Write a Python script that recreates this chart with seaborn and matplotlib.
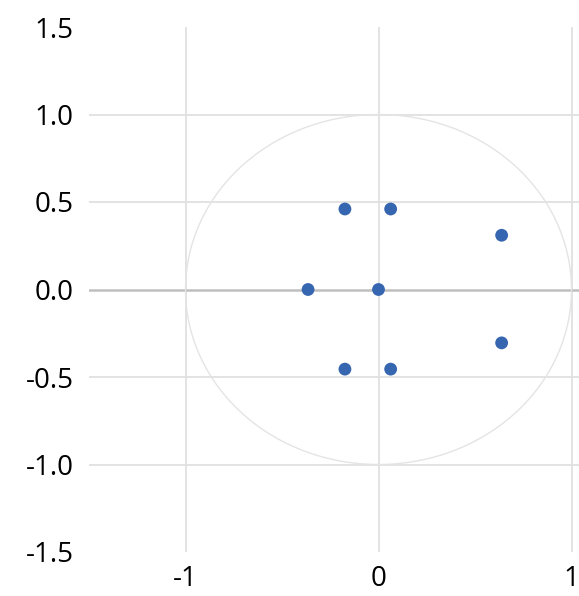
import numpy as np
import pandas as pd
import seaborn as sns
import matplotlib.pyplot as plt

# pole locations
real = [-0.174, 0.063, 0.638, -0.365, 0.0, -0.174, 0.063, 0.638]
imag = [0.46, 0.46, 0.31, 0.0, 0.0, -0.455, -0.455, -0.305]

x_ticks = [-1, 0, 1]
y_ticks = [-1.5, -1.0, -0.5, 0.0, 0.5, 1.0, 1.5]

df = pd.DataFrame({'re': real, 'im': imag})

sns.set_theme(style="white")
plt.rcParams['font.family'] = ['Open Sans', 'DejaVu Sans']

fig = plt.figure(figsize=(5.79, 5.96), dpi=100)
ax = fig.add_axes([89 / 579, 44 / 596, 1.0, 525 / 596])

# unit circle
t = np.linspace(0, 2 * np.pi, 400)
ax.plot(np.cos(t), np.sin(t), color='#e4e4e4', lw=1.0, zorder=1)

sns.scatterplot(x='re', y='im', data=df, ax=ax, color='#3766b1',
                s=85, edgecolor='none', zorder=3)

ax.set_xlim(-1.5, 1.5)
ax.set_ylim(-1.5, 1.5)
ax.set_xticks(x_ticks)
ax.set_yticks(y_ticks)
ax.set_xticklabels([str(v) for v in x_ticks])
ax.set_yticklabels(['%.1f' % v for v in y_ticks])
ax.tick_params(axis='both', length=0, labelsize=20, labelcolor='black')
ax.tick_params(axis='y', pad=11)
ax.tick_params(axis='x', pad=9)

for v in x_ticks:
    ax.axvline(v, color='#e0e0e0', lw=1.3, zorder=0)
for v in y_ticks[1:-1]:
    if v != 0:
        ax.axhline(v, color='#e0e0e0', lw=1.3, zorder=0)
ax.axhline(0, color='#bfbfbf', lw=1.8, zorder=0)

sns.despine(ax=ax, left=True, bottom=True)
ax.set_xlabel('')
ax.set_ylabel('')

plt.savefig('out.png', dpi=100)
